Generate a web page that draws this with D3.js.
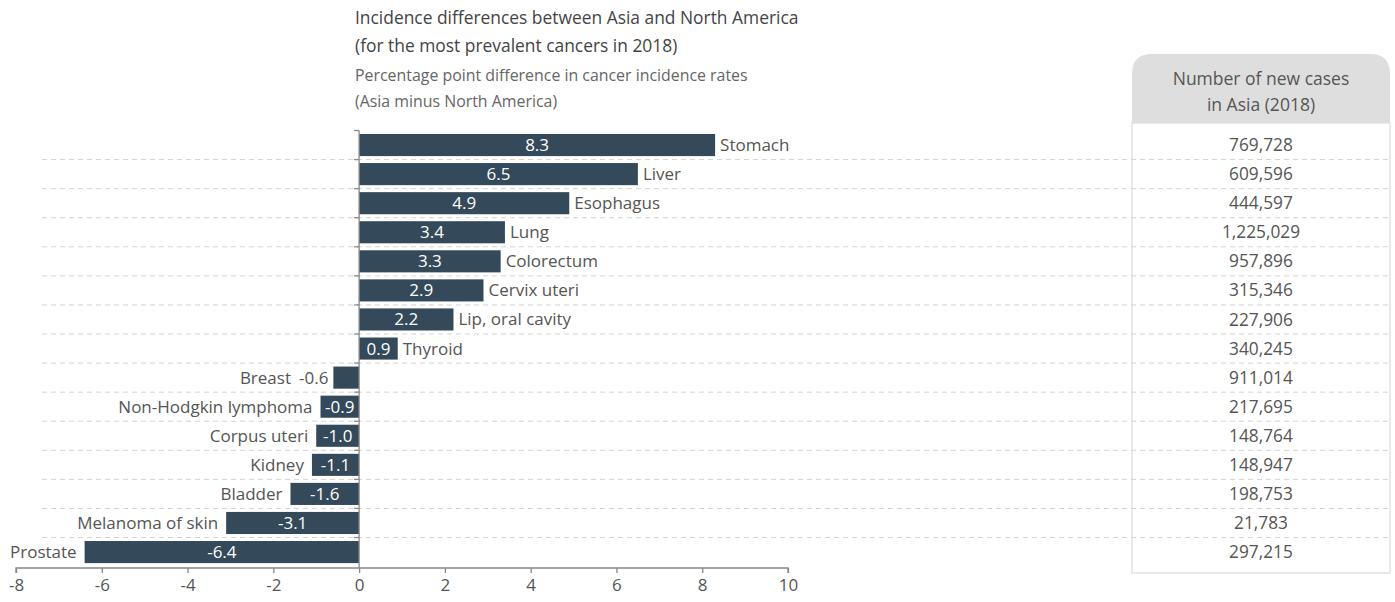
<!DOCTYPE html>
<html>
<head>
<meta charset="utf-8">
<script src="https://cdn.jsdelivr.net/npm/d3@7"></script>
<style>
  html, body { margin: 0; padding: 0; background: #fff; }
  svg { display: block; font-family: "Open Sans", "Noto Sans", sans-serif; }
</style>
</head>
<body>
<svg id="chart" width="1395" height="602"></svg>
<script>
const categories = ["Stomach","Liver","Esophagus","Lung","Colorectum","Cervix uteri","Lip, oral cavity","Thyroid","Breast","Non-Hodgkin lymphoma","Corpus uteri","Kidney","Bladder","Melanoma of skin","Prostate"];
const differences = [8.3, 6.5, 4.9, 3.4, 3.3, 2.9, 2.2, 0.9, -0.6, -0.9, -1.0, -1.1, -1.6, -3.1, -6.4];
const newCases = ["769,728","609,596","444,597","1,225,029","957,896","315,346","227,906","340,245","911,014","217,695","148,764","148,947","198,753","21,783","297,215"];
const xTicks = [-8, -6, -4, -2, 0, 2, 4, 6, 8, 10];
const titleLines = ["Incidence differences between Asia and North America", "(for the most prevalent cancers in 2018)"];
const subtitleLines = ["Percentage point difference in cancer incidence rates", "(Asia minus North America)"];
const tableHeader = ["Number of new cases", "in Asia (2018)"];

const svg = d3.select("#chart");
const barColor = "#344a5a";
const textColor = "#555";
const labelSize = 17;

const x = d3.scaleLinear().domain([-8, 10]).range([16, 788]);
const y = d3.scaleBand().domain(categories).range([130.5, 566.6]).paddingInner(0.24).paddingOuter(0.12);
const step = y.step();
const bandStart = y.range()[0];
const axisY = 568;

// Titles
svg.append("g").selectAll("text").data(titleLines).join("text")
  .attr("x", 355).attr("y", (d, i) => 24 + i * 28)
  .attr("font-size", 17.4).attr("font-weight", 500).attr("fill", "#444").text(d => d);
svg.append("g").selectAll("text").data(subtitleLines).join("text")
  .attr("x", 355).attr("y", (d, i) => 80.5 + i * 26)
  .attr("font-size", 15.9).attr("fill", "#666").text(d => d);

// Table
const tX0 = 1132, tX1 = 1390, hTop = 54, hBot = 123, r = 20;
svg.append("rect").attr("x", tX0).attr("y", hBot).attr("width", tX1 - tX0).attr("height", 573 - hBot)
  .attr("fill", "#fff").attr("stroke", "#e3e3e3").attr("stroke-width", 1.5);
svg.append("path")
  .attr("d", `M${tX0},${hBot} L${tX0},${hTop + r} Q${tX0},${hTop} ${tX0 + r},${hTop} L${tX1 - r},${hTop} Q${tX1},${hTop} ${tX1},${hTop + r} L${tX1},${hBot} Z`)
  .attr("fill", "#dedede");
svg.append("g").selectAll("text").data(tableHeader).join("text")
  .attr("x", (tX0 + tX1) / 2).attr("y", (d, i) => 85 + i * 26)
  .attr("text-anchor", "middle").attr("font-size", 17.5).attr("fill", textColor).text(d => d);

// Gridlines between rows
const gridIdx = d3.range(1, categories.length);
svg.append("g").selectAll("line").data(gridIdx).join("line")
  .attr("x1", 42).attr("x2", 1391)
  .attr("y1", i => bandStart + i * step).attr("y2", i => bandStart + i * step)
  .attr("stroke", "#d3d3d3").attr("stroke-dasharray", "5,4").attr("stroke-width", 1);

// Table values
svg.append("g").selectAll("text").data(newCases).join("text")
  .attr("x", (tX0 + tX1) / 2)
  .attr("y", (d, i) => y(categories[i]) + y.bandwidth() / 2)
  .attr("dy", "0.35em").attr("text-anchor", "middle").attr("font-size", 17.3).attr("fill", textColor).text(d => d);

// Bars
const data = categories.map((c, i) => ({ cat: c, v: differences[i] }));
svg.append("g").selectAll("rect").data(data).join("rect")
  .attr("x", d => x(Math.min(0, d.v)))
  .attr("width", d => Math.abs(x(d.v) - x(0)))
  .attr("y", d => y(d.cat)).attr("height", y.bandwidth())
  .attr("fill", barColor);

// Y axis line + ticks
const yAxisG = svg.append("g");
yAxisG.append("line").attr("x1", x(0)).attr("x2", x(0)).attr("y1", bandStart).attr("y2", axisY)
  .attr("stroke", "#888").attr("stroke-width", 1.3);
yAxisG.selectAll("line.t").data(d3.range(0, categories.length)).join("line").attr("class", "t")
  .attr("x1", x(0) - 5).attr("x2", x(0))
  .attr("y1", i => bandStart + i * step).attr("y2", i => bandStart + i * step)
  .attr("stroke", "#888").attr("stroke-width", 1.3);

// X axis
const xAxis = d3.axisBottom(x).tickValues(xTicks).tickSize(5).tickPadding(6).tickFormat(d => (d < 0 ? "-" + Math.abs(d) : String(d)));
const xg = svg.append("g").attr("transform", `translate(0,${axisY})`).call(xAxis);
xg.select(".domain").attr("stroke", "#888").attr("stroke-width", 1.3).attr("d", `M${x(-8)},5V0H${x(10)}V5`);
xg.selectAll(".tick line").attr("stroke", "#888").attr("stroke-width", 1.3);
xg.selectAll(".tick text").attr("font-size", 17).attr("fill", textColor).attr("font-family", "Open Sans, sans-serif");

// Labels
const fmt = v => (v < 0 ? "-" : "") + Math.abs(v).toFixed(1);
const labels = svg.append("g");
data.forEach(d => {
  const cy = y(d.cat) + y.bandwidth() / 2;
  const barW = Math.abs(x(d.v) - x(0));
  const vt = labels.append("text").attr("y", cy).attr("dy", "0.35em").attr("font-size", labelSize)
    .text(fmt(d.v));
  const w = vt.node().getComputedTextLength();
  let outerEdge = x(d.v);
  if (w + 4 <= barW) {
    vt.attr("x", (x(d.v) + x(0)) / 2).attr("text-anchor", "middle").attr("fill", "#fff");
  } else {
    if (d.v < 0) {
      vt.attr("x", x(d.v) - 5).attr("text-anchor", "end").attr("fill", textColor);
      outerEdge = x(d.v) - 5 - w;
    } else {
      vt.attr("x", x(d.v) + 5).attr("text-anchor", "start").attr("fill", textColor);
      outerEdge = x(d.v) + 5 + w;
    }
  }
  const gap = d.v < 0 ? 8 : 5;
  labels.append("text").attr("y", cy).attr("dy", "0.35em").attr("font-size", labelSize).attr("fill", textColor)
    .attr("x", d.v < 0 ? outerEdge - gap : outerEdge + gap)
    .attr("text-anchor", d.v < 0 ? "end" : "start")
    .text(d.cat);
});
</script>
</body>
</html>
